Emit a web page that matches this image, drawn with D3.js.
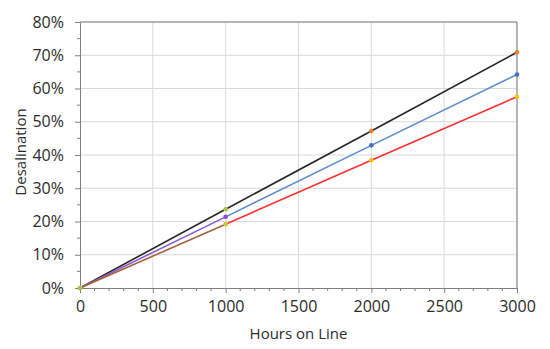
<!DOCTYPE html>
<html>
<head>
<meta charset="utf-8">
<script src="https://cdn.jsdelivr.net/npm/d3@7"></script>
<style>
  body { margin: 0; background: #fff; }
  text { font-family: "Open Sans", sans-serif; fill: #2b2b2b; }
</style>
</head>
<body>
<svg id="chart" width="550" height="349"></svg>
<script>
// hours on line
const hours = [0, 1000, 2000, 3000];
// desalination (fraction) per run
const seriesTop = [0, 0.237, 0.472, 0.709];
const seriesMid = [0, 0.214, 0.429, 0.642];
const seriesLow = [0, 0.192, 0.384, 0.575];

const xTicks = [0, 500, 1000, 1500, 2000, 2500, 3000];
const yTicks = [0, 0.1, 0.2, 0.3, 0.4, 0.5, 0.6, 0.7, 0.8];

// segment colours (0-1000 then 1000-3000) and marker colours per point
const lines = [
    { values: seriesTop, seg: ["#262626", "#262626"], marks: ["#a9c23f", "#a9c23f", "#ed7d31", "#ed7d31"] },
    { values: seriesMid, seg: ["#8b5cd6", "#5b8bd0"], marks: ["#a9c23f", "#8b4fd8", "#4472c4", "#4472c4"] },
    { values: seriesLow, seg: ["#a5603c", "#ff3030"], marks: ["#a9c23f", "#c8cc30", "#ffc000", "#ffc000"] }
];

const margin = {top: 22, right: 33, bottom: 61, left: 80};
const svg = d3.select("#chart");
const width = 550 - margin.left - margin.right;
const height = 349 - margin.top - margin.bottom;

const g = svg.append("g")
    .attr("transform", "translate(" + margin.left + "," + margin.top + ")");

const x_scale = d3.scaleLinear().domain([0, 3000]).range([0, width]);
const y_scale = d3.scaleLinear().domain([0, 0.8]).range([height, 0]);

// grid
g.append("g").selectAll("line")
    .data(yTicks.slice(1))
    .enter().append("line")
    .attr("x1", 0).attr("x2", width)
    .attr("y1", d => y_scale(d)).attr("y2", d => y_scale(d))
    .attr("stroke", "#d9d9d9");

g.append("g").selectAll("line")
    .data(xTicks.slice(1))
    .enter().append("line")
    .attr("y1", 0).attr("y2", height)
    .attr("x1", d => x_scale(d)).attr("x2", d => x_scale(d))
    .attr("stroke", "#d9d9d9");

// frame top / right
g.append("path")
    .attr("d", "M0,0H" + width + "V" + height)
    .attr("fill", "none")
    .attr("stroke", "#7f7f7f");

// minor ticks
g.append("g").selectAll("line")
    .data(d3.range(100, 3000, 100).filter(d => d % 500 !== 0))
    .enter().append("line")
    .attr("x1", d => x_scale(d)).attr("x2", d => x_scale(d))
    .attr("y1", height).attr("y2", height + 3)
    .attr("stroke", "#7f7f7f");

g.append("g").selectAll("line")
    .data(d3.range(0.05, 0.8, 0.1))
    .enter().append("line")
    .attr("x1", -3).attr("x2", 0)
    .attr("y1", d => y_scale(d)).attr("y2", d => y_scale(d))
    .attr("stroke", "#7f7f7f");

const xAxis = g.append("g")
    .attr("transform", "translate(0," + height + ")")
    .call(d3.axisBottom(x_scale).tickValues(xTicks).tickFormat(d3.format("d")).tickSize(5).tickPadding(8).tickSizeOuter(0));

const yAxis = g.append("g")
    .call(d3.axisLeft(y_scale).tickValues(yTicks).tickFormat(d3.format(".0%")).tickSize(5).tickPadding(11).tickSizeOuter(0));

[xAxis, yAxis].forEach(a => {
    a.select(".domain").attr("stroke", "#7f7f7f");
    a.selectAll(".tick line").attr("stroke", "#7f7f7f");
    a.selectAll(".tick text")
        .style("font-family", "'Open Sans', sans-serif")
        .style("font-size", "16px")
        .attr("fill", "#2b2b2b");
});

// lines, drawn segment by segment
lines.forEach(s => {
    for (let i = 0; i < hours.length - 1; i++) {
        g.append("line")
            .attr("x1", x_scale(hours[i])).attr("y1", y_scale(s.values[i]))
            .attr("x2", x_scale(hours[i + 1])).attr("y2", y_scale(s.values[i + 1]))
            .attr("stroke", i === 0 ? s.seg[0] : s.seg[1])
            .attr("stroke-width", 1.6);
    }
});

lines.forEach(s => {
    g.append("g").selectAll("circle")
        .data(hours)
        .enter().append("circle")
        .attr("cx", d => x_scale(d))
        .attr("cy", (d, i) => y_scale(s.values[i]))
        .attr("r", 2.3)
        .attr("fill", (d, i) => s.marks[i]);
});

// axis titles
svg.append("text")
    .attr("x", margin.left + width / 2)
    .attr("y", 339)
    .attr("text-anchor", "middle")
    .style("font-size", "15px")
    .text("Hours on Line");

svg.append("text")
    .attr("transform", "translate(26,152) rotate(-90)")
    .attr("text-anchor", "middle")
    .style("font-size", "15px")
    .text("Desalination");
</script>
</body>
</html>
